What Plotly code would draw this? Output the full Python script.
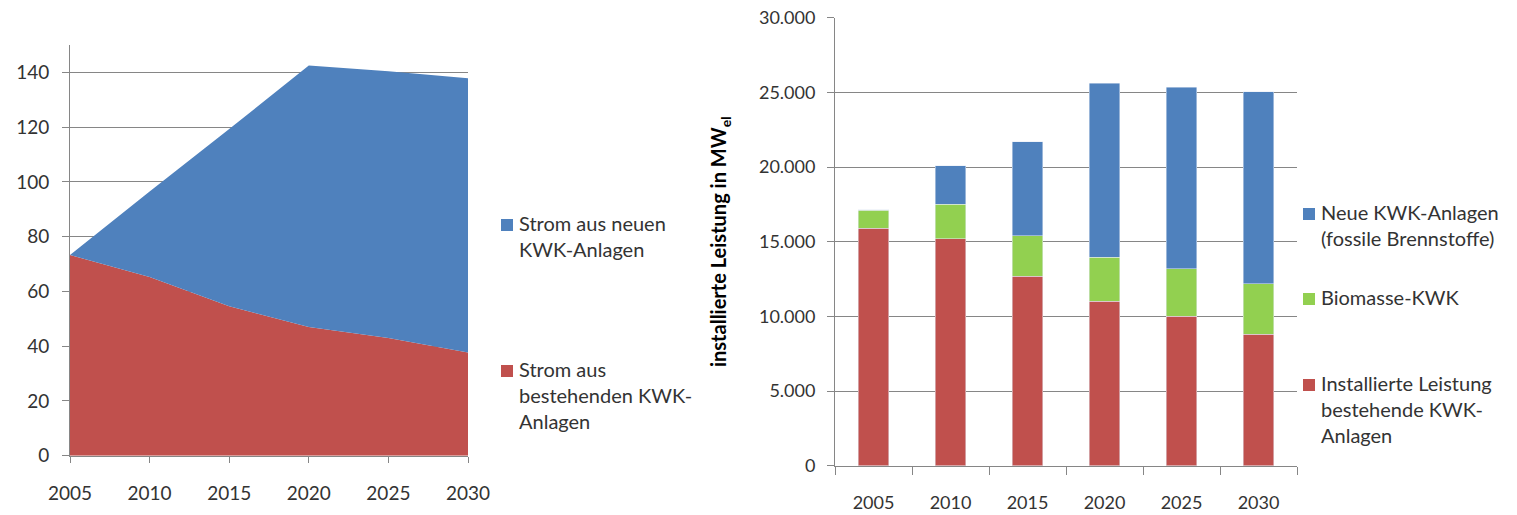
import plotly.graph_objects as go

# ---------------- data ----------------
years_area = [2005, 2010, 2015, 2020, 2025, 2030]
strom_bestehend = [73.3, 65.3, 54.6, 47.0, 43.0, 37.7]
strom_neu = [0.0, 31.2, 64.7, 95.5, 97.4, 100.2]

years_bar = ["2005", "2010", "2015", "2020", "2025", "2030"]
leistung_bestehend = [15900, 15200, 12700, 11000, 10000, 8800]
biomasse_kwk = [1200, 2300, 2700, 2950, 3200, 3400]
neue_kwk = [50, 2600, 6300, 11650, 12150, 12850]

left_ticks = [0, 20, 40, 60, 80, 100, 120, 140]
right_ticks = [0, 5000, 10000, 15000, 20000, 25000, 30000]

# ---------------- style ----------------
W, H = 1517, 515
RED = "#C0504D"
BLUE = "#4F81BD"
GREEN = "#92D050"
GRID = "#868686"
TXT = "#333333"
FONT = "Lato"


def px(x):
    return x / W


def py(y):
    return 1 - y / H


fig = go.Figure()

# left: stacked area
fig.add_trace(go.Scatter(x=years_area, y=strom_bestehend, stackgroup="a", mode="none",
                         fillcolor=RED, name="Strom aus bestehenden KWK-Anlagen",
                         xaxis="x", yaxis="y", showlegend=False))
fig.add_trace(go.Scatter(x=years_area, y=strom_neu, stackgroup="a", mode="none",
                         fillcolor=BLUE, name="Strom aus neuen KWK-Anlagen",
                         xaxis="x", yaxis="y", showlegend=False))

# right: stacked bars
fig.add_trace(go.Bar(x=years_bar, y=leistung_bestehend, marker_color=RED,
                     name="Installierte Leistung bestehende KWK-Anlagen",
                     xaxis="x2", yaxis="y2", showlegend=False))
fig.add_trace(go.Bar(x=years_bar, y=biomasse_kwk, marker_color=GREEN,
                     name="Biomasse-KWK", xaxis="x2", yaxis="y2", showlegend=False))
fig.add_trace(go.Bar(x=years_bar, y=neue_kwk, marker_color=BLUE,
                     name="Neue KWK-Anlagen (fossile Brennstoffe)",
                     xaxis="x2", yaxis="y2", showlegend=False))

axis_common = dict(showline=True, linecolor=GRID, linewidth=1, ticks="outside",
                   tickcolor=GRID, tickwidth=1, zeroline=False, automargin=False,
                   ticklabeloverflow="allow")

fig.update_layout(
    width=W, height=H, autosize=False,
    margin=dict(l=0, r=0, t=0, b=0, pad=0),
    paper_bgcolor="white", plot_bgcolor="white",
    separators=",.",
    barmode="stack", bargap=0.6,
    font=dict(family=FONT, color=TXT),
    xaxis=dict(domain=[px(70), px(468)], range=[2005, 2030], tickvals=years_area,
               ticklen=6, showgrid=False, ticklabelstandoff=14, anchor="y",
               tickfont=dict(family=FONT, color=TXT, size=19), **axis_common),
    yaxis=dict(domain=[py(455.7), py(45)], range=[0, 150], tickvals=left_ticks,
               ticklen=7, showgrid=True, gridcolor=GRID, gridwidth=1,
               ticklabelstandoff=9, anchor="x",
               tickfont=dict(family=FONT, color=TXT, size=19), **axis_common),
    xaxis2=dict(domain=[px(835), px(1297)], type="category", tickson="boundaries",
                ticklen=8, showgrid=False, ticklabelstandoff=21, anchor="y2",
                tickfont=dict(family=FONT, color=TXT, size=18), **axis_common),
    yaxis2=dict(domain=[py(465.7), py(17.7)], range=[0, 30000], tickvals=right_ticks,
                tickformat=",d", ticklen=7, showgrid=True, gridcolor=GRID, gridwidth=1,
                ticklabelstandoff=8, anchor="x2",
                tickfont=dict(family=FONT, color=TXT, size=18),
                title=dict(text="<b>installierte Leistung in MW<sub>el</sub></b>",
                           font=dict(family=FONT, color="#000000", size=20), standoff=26),
                **axis_common),
)

# legends (as annotations + squares)
legend_items = [
    # (square x, line1 center y, color, text)
    (507, 225, BLUE, "Strom aus neuen<br>KWK-Anlagen"),
    (507, 371, RED, "Strom aus<br>bestehenden KWK-<br>Anlagen"),
    (1309, 214, BLUE, "Neue KWK-Anlagen<br>(fossile Brennstoffe)"),
    (1309, 299, GREEN, "Biomasse-KWK"),
    (1309, 385, RED, "Installierte Leistung<br>bestehende KWK-<br>Anlagen"),
]
shapes = []
annotations = []
for sx, sy, col, txt in legend_items:
    shapes.append(dict(type="rect", xref="paper", yref="paper",
                       x0=px(sx - 6), x1=px(sx + 6), y0=py(sy + 6), y1=py(sy - 6),
                       fillcolor=col, line=dict(width=0)))
    annotations.append(dict(xref="paper", yref="paper", x=px(sx + 10), y=py(sy - 16),
                            xanchor="left", yanchor="top", align="left", showarrow=False,
                            text=txt, font=dict(family=FONT, color=TXT, size=20)))
fig.update_layout(shapes=shapes, annotations=annotations)

# remove the default page margin so the 1517x515 figure fills the window exactly
fig.write_html("out.html", config={"displayModeBar": False},
               post_script="document.body.style.margin='0';document.body.style.overflow='hidden';")
